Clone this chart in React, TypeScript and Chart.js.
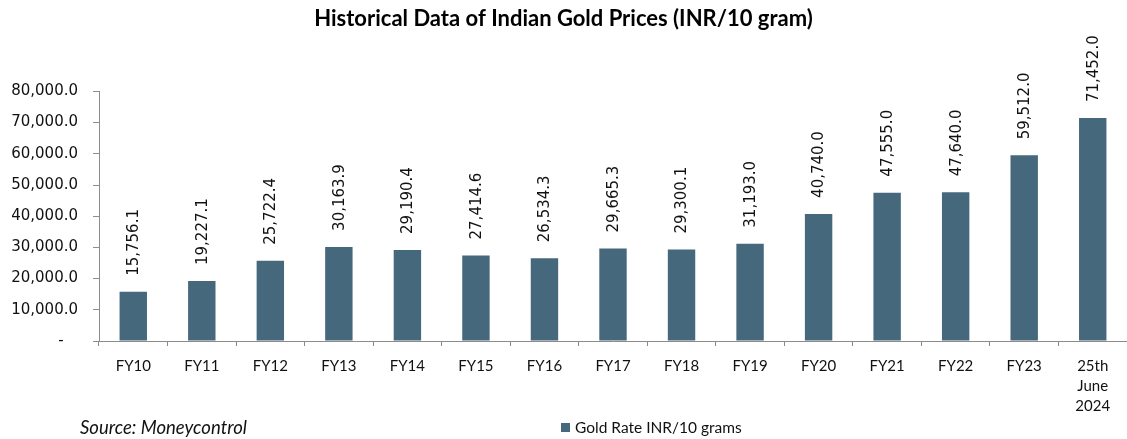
import React, { useEffect, useRef } from "react";
import { Chart, registerables } from "chart.js";

Chart.register(...registerables);

const categories: (string | string[])[] = [
  "FY10", "FY11", "FY12", "FY13", "FY14", "FY15", "FY16", "FY17", "FY18", "FY19",
  "FY20", "FY21", "FY22", "FY23", ["25th", "June", "2024"],
];
const goldRates = [
  15756.1, 19227.1, 25722.4, 30163.9, 29190.4, 27414.6, 26534.3, 29665.3, 29300.1,
  31193.0, 40740.0, 47555.0, 47640.0, 59512.0, 71452.0,
];
const yTicks = [0, 10000, 20000, 30000, 40000, 50000, 60000, 70000, 80000];
const seriesName = "Gold Rate INR/10 grams";
const titleText = "Historical Data of Indian Gold Prices (INR/10 gram)";
const sourceText = "Source: Moneycontrol";

const BAR_COLOR = "#46687d";
const fmt = (v: number) =>
  v.toLocaleString("en-US", { minimumFractionDigits: 1, maximumFractionDigits: 1 });

export default function App() {
  const ref = useRef<HTMLCanvasElement | null>(null);

  useEffect(() => {
    document.body.style.margin = "0";
    const canvas = ref.current;
    if (!canvas) return;

    const labelPlugin = {
      id: "extras",
      afterDatasetsDraw(chart: any) {
        const ctx = chart.ctx;
        const meta = chart.getDatasetMeta(0);
        ctx.save();
        ctx.font = "15px 'DejaVu Sans'";
        ctx.fillStyle = "#111";
        ctx.textAlign = "left";
        ctx.textBaseline = "middle";
        meta.data.forEach((bar: any, i: number) => {
          ctx.save();
          ctx.translate(bar.x, bar.y - 16);
          ctx.rotate(-Math.PI / 2);
          ctx.fillText(fmt(goldRates[i]), 0, 1);
          ctx.restore();
        });
        ctx.restore();
      },
      afterDraw(chart: any) {
        const ctx = chart.ctx;
        ctx.save();
        ctx.textBaseline = "middle";
        ctx.fillStyle = "#111";
        ctx.font = "italic 18.5px Lato";
        ctx.textAlign = "left";
        ctx.fillText(sourceText, 80, 428);
        ctx.fillStyle = BAR_COLOR;
        ctx.fillRect(561, 423, 9, 9);
        ctx.fillStyle = "#111";
        ctx.font = "15.5px Lato";
        ctx.fillText(seriesName, 575, 428);
        ctx.restore();
      },
    };

    const chart = new Chart(canvas, {
      type: "bar",
      data: {
        labels: categories,
        datasets: [
          {
            label: seriesName,
            data: goldRates,
            backgroundColor: BAR_COLOR,
            borderWidth: 0,
            barPercentage: 0.4,
            categoryPercentage: 1,
          },
        ],
      },
      options: {
        animation: false,
        responsive: false,
        maintainAspectRatio: false,
        layout: { padding: { left: 0, right: 0, top: 0, bottom: 0 } },
        plugins: {
          legend: { display: false },
          tooltip: { enabled: false },
          title: {
            display: true,
            text: titleText,
            color: "#000",
            font: { family: "Lato", size: 22, weight: "bold" },
            padding: { top: 6, bottom: 59 },
          },
        },
        scales: {
          x: {
            offset: true,
            grid: {
              offset: true,
              drawOnChartArea: false,
              drawTicks: true,
              tickLength: 5,
              color: "#8c8c8c",
            },
            border: { display: true, color: "#8c8c8c", width: 1 },
            ticks: {
              color: "#111",
              font: { family: "Lato", size: 15, lineHeight: 1.33 },
              padding: 10,
              maxRotation: 0,
              autoSkip: false,
            },
            afterFit(scale: any) {
              scale.height = 98;
            },
          },
          y: {
            min: 0,
            max: 80000,
            afterBuildTicks(scale: any) {
              scale.ticks = yTicks.map((v) => ({ value: v }));
            },
            grid: {
              drawOnChartArea: false,
              drawTicks: true,
              tickLength: 6,
              color: "#8c8c8c",
            },
            border: { display: true, color: "#8c8c8c", width: 1 },
            ticks: {
              color: "#111",
              font: { family: "DejaVu Sans", size: 15 },
              padding: 15,
              callback: (v: any) => (Number(v) === 0 ? "-   " : fmt(Number(v))),
            },
            afterFit(scale: any) {
              scale.width = 99;
            },
          },
        },
      },
      plugins: [labelPlugin],
    });

    return () => chart.destroy();
  }, []);

  return (
    <div style={{ position: "absolute", left: 0, top: 0, width: 1127, height: 439, background: "#fff" }}>
      <canvas ref={ref} width={1127} height={439} style={{ width: 1127, height: 439 }} />
    </div>
  );
}
